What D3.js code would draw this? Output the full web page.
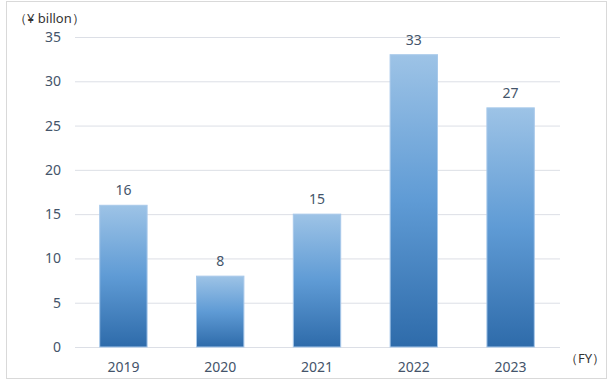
<!DOCTYPE html>
<html><head><meta charset="utf-8">
<script src="https://cdn.jsdelivr.net/npm/d3@7"></script>
<style>body{margin:0;background:#fff}svg{display:block}</style>
</head><body>
<script>
const categories = ["2019","2020","2021","2022","2023"];
const values = [16, 8, 15, 33, 27];
const yTicks = [0,5,10,15,20,25,30,35];
const yUnit = "（¥ billon）";
const xUnit = "（FY）";

const W = 613, H = 380;
const svg = d3.select("body").append("svg").attr("width", W).attr("height", H);
const font = "'Noto Sans', 'Open Sans', sans-serif";
const textColor = "#44546A";

svg.append("rect").attr("x",6.5).attr("y",1.5).attr("width",600).attr("height",377)
  .attr("fill","#fff").attr("stroke","#d9d9d9");

const defs = svg.append("defs");
const g = defs.append("linearGradient").attr("id","barGrad").attr("x1",0).attr("y1",0).attr("x2",0).attr("y2",1);
g.append("stop").attr("offset","0%").attr("stop-color","#9DC3E6");
g.append("stop").attr("offset","50%").attr("stop-color","#5F9BD5");
g.append("stop").attr("offset","100%").attr("stop-color","#2E6BAA");

const x = d3.scaleBand().domain(categories).range([75, 559]).paddingInner(0.5).paddingOuter(0.25);
const y = d3.scaleLinear().domain([0,35]).range([347, 37]);

svg.append("g").selectAll("line").data(yTicks).join("line")
  .attr("x1",75).attr("x2",560)
  .attr("y1",d=>y(d)+0.5).attr("y2",d=>y(d)+0.5)
  .attr("stroke","#dcdfe6").attr("stroke-width",1);

const yAxis = d3.axisLeft(y).tickValues(yTicks).tickSize(0).tickPadding(0);
const ya = svg.append("g").attr("transform","translate(61,0)").call(yAxis);
ya.select(".domain").remove();
ya.selectAll("text").attr("font-family",font).attr("font-size",14).attr("fill",textColor);

const xAxis = d3.axisBottom(x).tickSize(0).tickPadding(0);
const xa = svg.append("g").attr("transform","translate(0,362)").call(xAxis);
xa.select(".domain").remove();
xa.selectAll("text").attr("font-family",font).attr("font-size",14).attr("fill",textColor);

svg.append("g").selectAll("rect").data(values).join("rect")
  .attr("x",(d,i)=>x(categories[i])+0.5)
  .attr("y",d=>y(d))
  .attr("width",x.bandwidth()-1)
  .attr("height",d=>y(0)-y(d))
  .attr("fill","url(#barGrad)")
  .attr("stroke","#a8c9ea").attr("stroke-width",1);

svg.append("g").selectAll("text").data(values).join("text")
  .attr("x",(d,i)=>x(categories[i])+x.bandwidth()/2)
  .attr("y",d=>y(d)-10)
  .attr("text-anchor","middle")
  .attr("font-family",font).attr("font-size",14).attr("fill",textColor)
  .text(d=>d);

svg.append("text").attr("x",14).attr("y",23).attr("font-family",font).attr("font-size",13)
  .attr("fill","#333").text(yUnit);
svg.append("text").attr("x",565).attr("y",363).attr("font-family",font).attr("font-size",13)
  .attr("fill","#333").text(xUnit);
</script>
</body></html>
